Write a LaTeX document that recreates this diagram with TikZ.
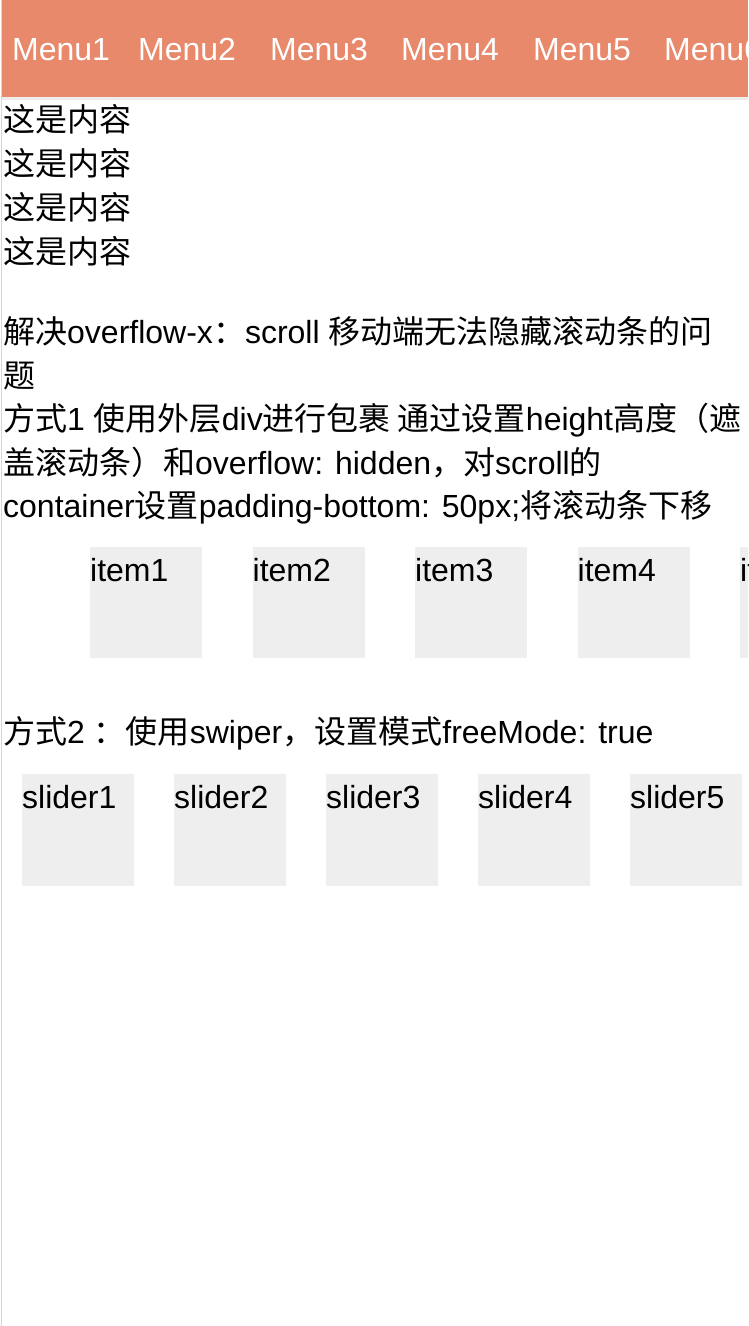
\documentclass[tikz,border=0pt]{standalone}
\usepackage{fontspec}
\setmainfont{Liberation Sans}
\newfontfamily\cjk{Noto Sans CJK SC}
\newcommand{\zh}[1]{{\cjk #1}}
\definecolor{menubar}{HTML}{E8896B}
\definecolor{cellgray}{HTML}{EEEEEE}
\definecolor{edgegray}{HTML}{D6D6D6}

\begin{document}
\begin{tikzpicture}[x=1pt,y=-1pt,
    txt/.style={anchor=base west,inner sep=0pt,font=\fontsize{32}{44}\selectfont},
    menutxt/.style={txt,text=white},
    cell/.style={fill=cellgray}]
  \useasboundingbox (0,0) rectangle (748,1326);
  \clip (0,0) rectangle (748,1326);
  \fill[white] (0,0) rectangle (748,1326);
  \draw[edgegray,line width=1pt] (1,0) -- (1,1326);
  % header bar
  \fill[black!7] (2,97) rectangle (748,100);
  \fill[menubar] (2,0) rectangle (748,97);
  \foreach \x [count=\i] in {12,138,270,401,533,664}
    \node[menutxt] (menu\i) at (\x,60) {Menu\i};
  % content lines
  \foreach \k in {1,...,4}
    \node[txt] (content\k) at (3,{87+44*\k}) {\zh{这是内容}};
  \node[txt] (title1) at (3,343.5) {\zh{解决}overflow-x\zh{：}scroll \zh{移动端无法隐藏滚动条的问}};
  \node[txt] (title2) at (3,387) {\zh{题}};
  \node[txt] (way1a) at (3,430.5) {\zh{方式}1 \zh{使用外层}div\zh{进行包裹 通过设置}height\zh{高度（遮}};
  \node[txt] (way1b) at (3,474) {\zh{盖滚动条）和}overflow: hidden\zh{，对}scroll\zh{的}};
  \node[txt] (way1c) at (3,517.5) {container\zh{设置}padding-bottom: 50px;\zh{将滚动条下移}};
  % items
  \foreach \i in {1,...,5} {
    \fill[cell] ({90+162.5*(\i-1)},547) rectangle +(112,111);
    \node[txt] (item\i) at ({90+162.5*(\i-1)},581) {item\i};
  }
  \node[txt] (way2) at (3,743.5) {\zh{方式}2 \zh{：}\zh{使用}swiper\zh{，设置模式}freeMode: true};
  % sliders
  \foreach \i in {1,...,5} {
    \fill[cell] ({22+152*(\i-1)},774) rectangle +(112,112);
    \node[txt] (slider\i) at ({22+152*(\i-1)},808) {slider\i};
  }
\end{tikzpicture}
\end{document}
